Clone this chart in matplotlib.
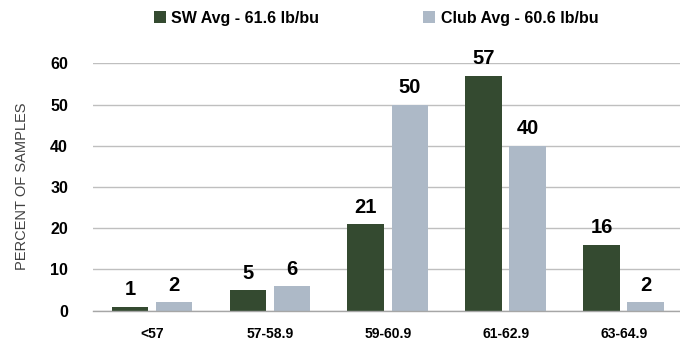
import matplotlib
matplotlib.use("Agg")
import matplotlib.pyplot as plt
import numpy as np

categories = ["<57", "57-58.9", "59-60.9", "61-62.9", "63-64.9"]
sw_values = [1, 5, 21, 57, 16]
club_values = [2, 6, 50, 40, 2]
sw_label = "SW Avg - 61.6 lb/bu"
club_label = "Club Avg - 60.6 lb/bu"
y_ticks = [0, 10, 20, 30, 40, 50, 60]

sw_color = "#344a30"
club_color = "#adb9c7"

plt.rcParams["font.family"] = ["Liberation Sans", "DejaVu Sans"]

fig = plt.figure(figsize=(6.8, 3.43), dpi=100)
ax = fig.add_axes([93 / 680, 32.3 / 343, (680 - 93) / 680, 0.7212])

x = np.arange(len(categories))
w = 0.31
off = 0.187
b1 = ax.bar(x - off, sw_values, w, color=sw_color, zorder=3, label=sw_label)
b2 = ax.bar(x + off, club_values, w, color=club_color, zorder=3, label=club_label)

for bars, vals in ((b1, sw_values), (b2, club_values)):
    for r, v in zip(bars, vals):
        ax.text(r.get_x() + r.get_width() / 2, v + 1.8, str(v),
                ha="center", va="bottom", fontsize=14.5, fontweight="bold",
                color="black", clip_on=False)

ax.set_xlim(-0.5, 4.478)
ax.set_ylim(0, 60)
ax.set_yticks(y_ticks)
ax.set_xticks(x)
ax.set_xticklabels(categories, fontsize=10, fontweight="bold")
ax.tick_params(axis="x", length=0, pad=12)
ax.tick_params(axis="y", length=0, pad=18, labelsize=11.5)
for lab in ax.get_yticklabels():
    lab.set_fontweight("bold")

ax.grid(axis="y", color="#bfbfbf", linewidth=1.0, zorder=0)
for s in ("top", "right", "left"):
    ax.spines[s].set_visible(False)
ax.spines["bottom"].set_color("#a6a6a6")
ax.spines["bottom"].set_linewidth(1.0)
ax.spines["bottom"].set_zorder(4)

fig.text(22 / 680, 1 - 186 / 343, "PERCENT OF SAMPLES", rotation=90,
         ha="center", va="center", fontsize=10.5, color="#404040")

leg = fig.legend(handles=[b1, b2], loc="center", bbox_to_anchor=(376 / 680, 1 - 18 / 343),
                 ncol=2, frameon=False, handlelength=0.75, handleheight=0.75,
                 handletextpad=0.35, columnspacing=6.5,
                 prop={"weight": "bold", "size": 11.5})

fig.savefig("out.png", dpi=100)
